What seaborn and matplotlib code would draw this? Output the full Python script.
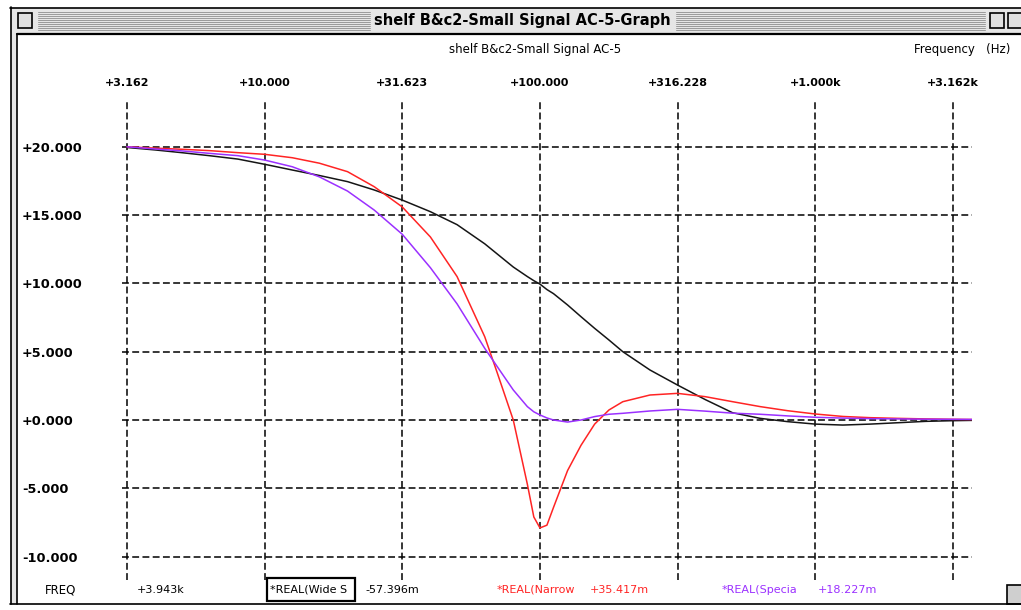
import numpy as np
import pandas as pd
import seaborn as sns
import matplotlib.pyplot as plt
from matplotlib.patches import Rectangle
from matplotlib.lines import Line2D

# Frequency points (Hz) shared by the three traces
freq = [3.162, 4, 5, 6.3, 8, 10, 12.6, 15.8, 20, 25, 31.6, 40, 50, 63, 70, 80, 90, 95,
        100, 106, 112, 126, 141, 158, 178, 200, 251, 316, 398, 501, 631, 794, 1000,
        1259, 1585, 1995, 2512, 3162, 3943]

# Response of each trace (dB)
wide = [19.95, 19.77, 19.57, 19.35, 19.1, 18.72, 18.3, 17.9, 17.45, 16.84, 16.1, 15.25,
        14.3, 12.9, 12.15, 11.2, 10.5, 10.2, 9.95, 9.55, 9.25, 8.42, 7.56, 6.71, 5.86,
        5.0, 3.66, 2.56, 1.5, 0.53, 0.12, -0.12, -0.3, -0.37, -0.3, -0.2, -0.1, -0.05, -0.02]
narrow = [20.0, 19.9, 19.82, 19.72, 19.57, 19.45, 19.2, 18.8, 18.18, 17.08, 15.6, 13.4,
          10.5, 6.1, 3.44, 0.0, -4.7, -7.1, -7.9, -7.7, -6.4, -3.7, -1.85, -0.3, 0.73,
          1.34, 1.83, 1.95, 1.71, 1.34, 0.98, 0.68, 0.44, 0.26, 0.17, 0.12, 0.08, 0.05, 0.03]
special = [20.0, 19.84, 19.7, 19.52, 19.35, 19.03, 18.54, 17.8, 16.76, 15.37, 13.6, 11.15,
           8.5, 5.25, 3.9, 2.2, 0.98, 0.6, 0.37, 0.15, 0.0, -0.15, 0.0, 0.25, 0.42,
           0.49, 0.66, 0.78, 0.65, 0.5, 0.42, 0.3, 0.2, 0.14, 0.1, 0.08, 0.06, 0.05, 0.04]

x_ticks = [3.162, 10, 31.623, 100, 316.228, 1000, 3162.3]
x_tick_labels = ['+3.162', '+10.000', '+31.623', '+100.000', '+316.228', '+1.000k', '+3.162k']
y_ticks = [20, 15, 10, 5, 0, -5, -10]
y_tick_labels = ['+20.000', '+15.000', '+10.000', '+5.000', '+0.000', '-5.000', '-10.000']

trace_names = ['*REAL(Wide S', '*REAL(Narrow', '*REAL(Specia']
cursor_values = ['-57.396m', '+35.417m', '+18.227m']
colors = ['#151515', '#ff2424', '#9b30ff']

df = pd.DataFrame({
    'freq': freq * 3,
    'value': wide + narrow + special,
    'trace': np.repeat(trace_names, len(freq)),
})

sns.set_style('white')
plt.rcParams['font.family'] = ['DejaVu Sans']
plt.rcParams['text.color'] = 'black'
plt.rcParams['xtick.color'] = 'black'
plt.rcParams['ytick.color'] = 'black'

W, H = 1021, 610
fig = plt.figure(figsize=(W / 100, H / 100), dpi=100)


def fx(px):
    return px / W


def fy(py):
    return 1 - py / H


# plot area in pixel terms
ax = fig.add_axes([fx(122), fy(580), (972 - 122) / W, (580 - 100) / H])
sns.lineplot(data=df, x='freq', y='value', hue='trace',
             palette=dict(zip(trace_names, colors)), estimator=None, sort=False,
             legend=False, linewidth=1.1, ax=ax)
ax.set_xscale('log')
ax.set_xlim(10 ** (0.5 - 5 / 275.3), 10 ** (0.5 + 845 / 275.3))
ax.set_ylim((420 - 580) / 13.66, (420 - 100) / 13.66)
ax.minorticks_off()

ax.grid(True, color='black', linestyle=(0, (4.5, 2.2)), linewidth=1.1)
ax.set_axisbelow(True)
for s in ax.spines.values():
    s.set_visible(False)
ax.set_xlabel('')
ax.set_ylabel('')

ax.xaxis.tick_top()
ax.set_xticks(x_ticks)
ax.set_xticklabels(x_tick_labels, fontsize=8, fontweight='bold', color='black')
ax.tick_params(axis='x', length=0, pad=9)
ax.set_yticks(y_ticks)
ax.set_yticklabels(y_tick_labels, fontsize=9.3, fontweight='bold', color='black')
ax.tick_params(axis='y', length=0, pad=72)
for t in ax.get_yticklabels():
    t.set_horizontalalignment('left')

# window frame
def hline(y, x0, x1, lw=1.0, color='black'):
    fig.add_artist(Line2D([fx(x0), fx(x1)], [fy(y), fy(y)], color=color, lw=lw))


def vline(x, y0, y1, lw=1.0, color='black'):
    fig.add_artist(Line2D([fx(x), fx(x)], [fy(y0), fy(y1)], color=color, lw=lw))


def box(x0, y0, x1, y1, face, edge='black', lw=1.0):
    fig.add_artist(Rectangle((fx(x0), fy(y1)), (x1 - x0) / W, (y1 - y0) / H,
                             facecolor=face, edgecolor=edge, lw=lw))


box(11, 8, 1025, 34, '#e6e6e6', edge='none')
box(11, 34, 17, 604, '#e6e6e6', edge='none')
for y in range(12, 32, 2):
    hline(y, 38, 370, lw=0.7, color='#9a9a9a')
    hline(y, 676, 985, lw=0.7, color='#9a9a9a')
hline(7.5, 10, 1021, lw=1.2)
vline(10.5, 7, 604, lw=1.2)
hline(604, 10, 1021, lw=1.2)
hline(34, 17, 1021, lw=1.6)
vline(17, 34, 604, lw=1.2)
box(18, 13, 32, 28, '#e0e0e0', lw=1.2)
box(990, 13, 1004, 28, '#e0e0e0', lw=1.2)
box(1008, 13, 1024, 28, '#e0e0e0', lw=1.2)
box(1007, 585, 1024, 604, '#cfcfcf', lw=1.2)

fig.text(fx(522), fy(21), 'shelf B&c2-Small Signal AC-5-Graph', ha='center', va='center',
         fontsize=10.5, fontweight='bold')
fig.text(fx(535), fy(49), 'shelf B&c2-Small Signal AC-5', ha='center', va='center', fontsize=8.5)
fig.text(fx(914), fy(49), 'Frequency   (Hz)', ha='left', va='center', fontsize=8.5)

# cursor readout row
row_y = fy(590)
fig.text(fx(45), row_y, 'FREQ', ha='left', va='center', fontsize=8.5)
fig.text(fx(137), row_y, '+3.943k', ha='left', va='center', fontsize=8)
box(267, 578, 355, 601, 'white', lw=1.6)
name_x = [270, 497, 722]
val_x = [365, 590, 818]
for name, val, c, nx, vx in zip(trace_names, cursor_values, colors, name_x, val_x):
    tc = 'black' if c == colors[0] else c
    fig.text(fx(nx), row_y, name, ha='left', va='center', fontsize=8, color=tc)
    fig.text(fx(vx), row_y, val, ha='left', va='center', fontsize=8, color=tc)

fig.savefig('out.png', dpi=100)
